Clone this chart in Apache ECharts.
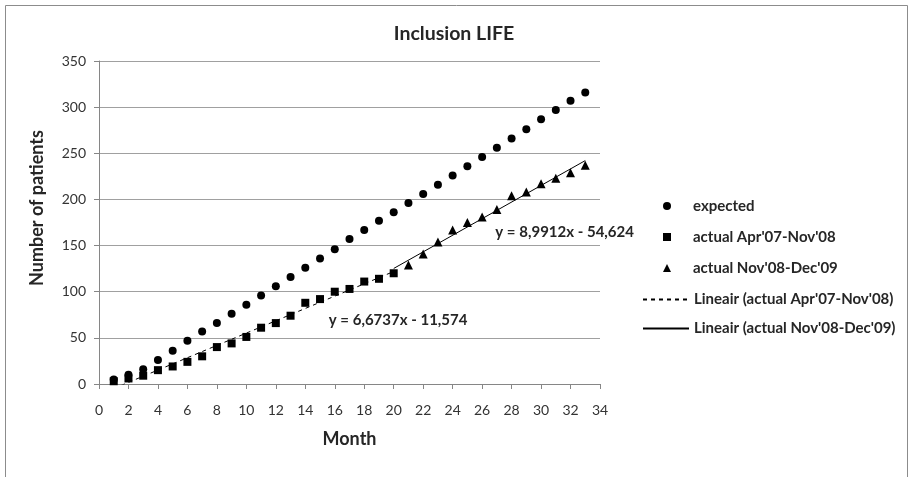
<!DOCTYPE html>
<html>
<head>
<meta charset="utf-8">
<script src="https://cdn.jsdelivr.net/npm/echarts@6/dist/echarts.min.js"></script>
<style>
html,body{margin:0;padding:0;background:#fff;}
#chart{width:908px;height:477px;}
</style>
</head>
<body>
<div id="chart"></div>
<script>
// ---- data ----
const title = 'Inclusion LIFE';
const xTitle = 'Month';
const yTitle = 'Number of patients';
const seriesNames = ['expected', "actual Apr'07-Nov'08", "actual Nov'08-Dec'09",
  "Lineair (actual Apr'07-Nov'08)", "Lineair (actual Nov'08-Dec'09)"];

const expectedMonths = [1,2,3,4,5,6,7,8,9,10,11,12,13,14,15,16,17,18,19,20,21,22,23,24,25,26,27,28,29,30,31,32,33];
const expectedValues = [5,10,16,26,36,47,57,66,76,86,96,106,116,126,136,146,157,167,177,186,196,206,216,226,236,246,256,266,276,287,297,307,316];

const actual1Months = [1,2,3,4,5,6,7,8,9,10,11,12,13,14,15,16,17,18,19,20];
const actual1Values = [3,6,9,15,19,24,30,40,44,51,61,66,74,88,92,100,103,111,114,120];

const actual2Months = [21,22,23,24,25,26,27,28,29,30,31,32,33];
const actual2Values = [129,141,154,167,175,181,189,204,208,217,223,229,237];

// trendline equations as printed on the chart (slope, intercept) and their month ranges
const trend1 = {slope: 6.6737, intercept: -11.574, from: 1, to: 20, label: 'y = 6,6737x - 11,574', labelAt: [20.3, 69]};
const trend2 = {slope: 8.9912, intercept: -54.624, from: 20, to: 33, label: 'y = 8,9912x - 54,624', labelAt: [31.6, 165]};

const xTicks = {min: 0, max: 34, interval: 2};
const yTicks = {min: 0, max: 350, interval: 50};

// ---- build ----
const zip = (xs, ys) => xs.map((x, i) => [x, ys[i]]);
const trendPoints = t => [[t.from, t.slope * t.from + t.intercept], [t.to, t.slope * t.to + t.intercept]];

const FONT = 'Lato';
const TXT = '#262626';
const chart = echarts.init(document.getElementById('chart'), null, {renderer: 'canvas'});

const trendLabel = t => ({
  symbol: 'circle', symbolSize: 0,
  data: [{coord: t.labelAt, value: t.label}],
  label: {show: true, position: 'inside', formatter: t.label, color: TXT,
          fontFamily: FONT, fontWeight: 'bold', fontSize: 15}
});

const legendText = {fontFamily: FONT, fontWeight: 'bold', fontSize: 15, color: TXT, lineHeight: 18};

chart.setOption({
  animation: false,
  backgroundColor: '#fff',
  textStyle: {fontFamily: FONT},
  title: {
    text: title, left: 'center', top: 19,
    textStyle: {fontFamily: FONT, fontWeight: 'bold', fontSize: 19.5, color: TXT}
  },
  grid: {left: 99, right: 308, top: 61, bottom: 93, containLabel: false},
  legend: [
    {
      orient: 'vertical', left: 658, top: 192,
      itemWidth: 8, itemHeight: 8, itemGap: 13, symbolKeepAspect: true,
      data: seriesNames.slice(0, 3),
      textStyle: Object.assign({padding: [0, 0, 0, 17]}, legendText)
    },
    {
      orient: 'vertical', left: 637, top: 285.5,
      itemWidth: 46, itemHeight: 8, itemGap: 11,
      itemStyle: {opacity: 0},
      data: seriesNames.slice(3),
      textStyle: legendText
    }
  ],
  xAxis: {
    type: 'value', min: xTicks.min, max: xTicks.max, interval: xTicks.interval,
    name: xTitle, nameLocation: 'middle', nameGap: 46,
    nameTextStyle: {fontFamily: FONT, fontWeight: 'bold', fontSize: 18, color: TXT},
    axisLine: {show: true, onZero: false, lineStyle: {color: '#868686', width: 1}},
    axisTick: {show: true, length: 5, lineStyle: {color: '#868686'}},
    axisLabel: {color: '#333', fontFamily: FONT, fontSize: 14, margin: 19},
    splitLine: {show: false}
  },
  yAxis: {
    type: 'value', min: yTicks.min, max: yTicks.max, interval: yTicks.interval,
    axisLine: {show: true, lineStyle: {color: '#868686', width: 1}},
    axisTick: {show: true, length: 5, lineStyle: {color: '#868686'}},
    axisLabel: {color: '#333', fontFamily: FONT, fontSize: 14, margin: 13},
    splitLine: {show: true, lineStyle: {color: '#a0a0a0', width: 1}}
  },
  graphic: [
    {type: 'rect', left: 3, top: 3, shape: {width: 902, height: 500},
     style: {fill: 'none', stroke: '#8c8c8c', lineWidth: 1}, silent: true, z: -1},
    {type: 'text', x: 37, y: 208, rotation: Math.PI / 2,
     style: {text: yTitle, fontFamily: FONT, fontWeight: 'bold', fontSize: 18, fill: TXT,
             textAlign: 'center', textVerticalAlign: 'middle'}}
  ],
  series: [
    {name: seriesNames[0], type: 'scatter', symbol: 'circle', symbolSize: 8,
     itemStyle: {color: '#000', opacity: 1}, data: zip(expectedMonths, expectedValues), z: 3},
    {name: seriesNames[1], type: 'scatter', symbol: 'rect', symbolSize: 8,
     itemStyle: {color: '#000', opacity: 1}, data: zip(actual1Months, actual1Values), z: 4},
    {name: seriesNames[2], type: 'scatter', symbol: 'triangle', symbolSize: 9,
     itemStyle: {color: '#000', opacity: 1}, data: zip(actual2Months, actual2Values), z: 4},
    {name: seriesNames[3], type: 'line', symbol: 'none', clip: true,
     lineStyle: {color: '#000', width: 1, type: [4, 4]}, itemStyle: {color: '#000'},
     data: trendPoints(trend1), z: 2, markPoint: trendLabel(trend1)},
    {name: seriesNames[4], type: 'line', symbol: 'none', clip: true,
     lineStyle: {color: '#000', width: 1, type: 'solid'}, itemStyle: {color: '#000'},
     data: trendPoints(trend2), z: 2, markPoint: trendLabel(trend2)}
  ]
});
</script>
</body>
</html>
